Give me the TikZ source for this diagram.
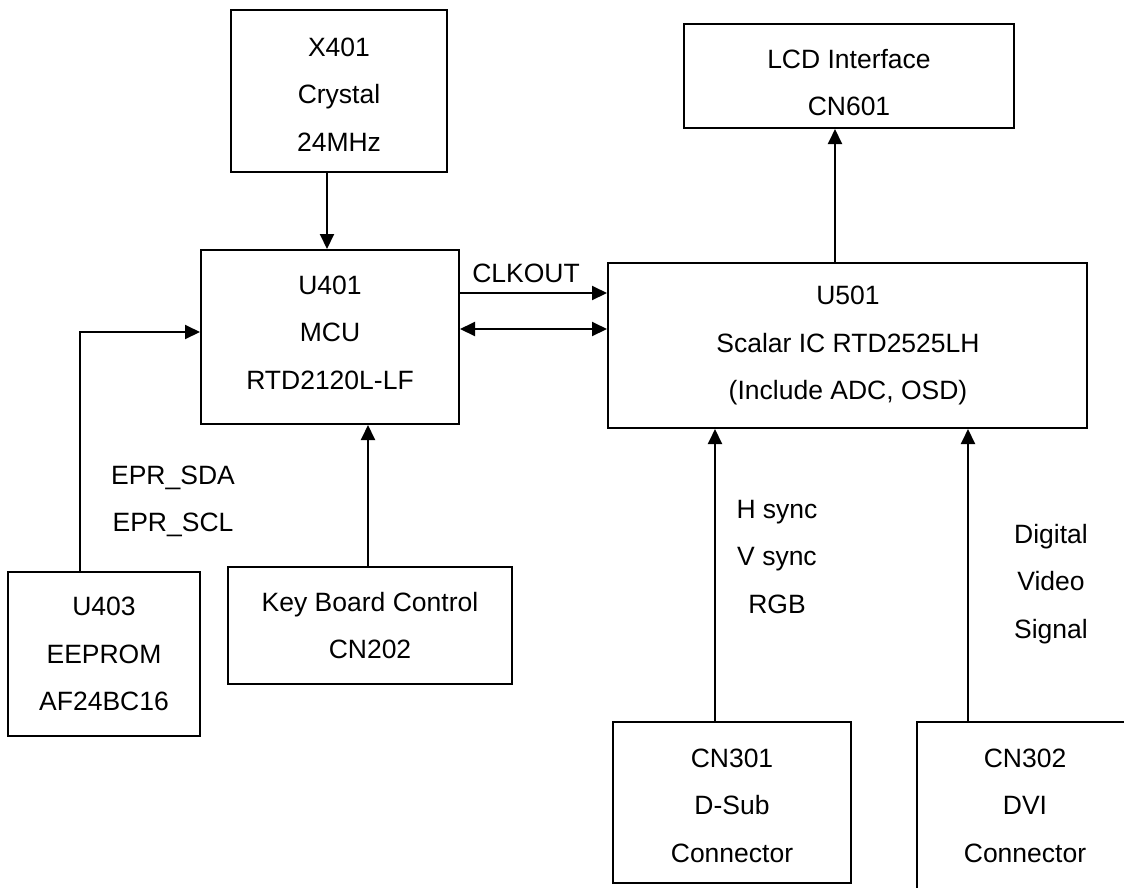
\documentclass[tikz,border=0pt]{standalone}
\usepackage{fontspec}
\setmainfont{Liberation Sans}
\usetikzlibrary{arrows.meta}
\begin{document}
\begin{tikzpicture}[x=1pt,y=-1pt,
  blk/.style={draw,line width=2pt,rectangle,inner sep=0pt},
  lbl/.style={inner sep=0pt,align=center,font=\fontsize{26.5}{47.5}\selectfont},
  arr/.style={line width=2pt,-{Triangle[length=15pt,width=14pt]}},
  darr/.style={line width=2pt,{Triangle[length=15pt,width=14pt]}-{Triangle[length=15pt,width=14pt]}}]
\useasboundingbox (0,0) rectangle (1124,887);
\clip (0,0) rectangle (1124,887);
\fill[white] (0,0) rectangle (1124,887);

% boxes
\node[blk,minimum width=216pt,minimum height=162pt] (x401) at (339,91) {};
\node[blk,minimum width=330pt,minimum height=104pt] (lcd) at (849,76) {};
\node[blk,minimum width=258pt,minimum height=174pt] (u401) at (330,337) {};
\node[blk,minimum width=479pt,minimum height=165pt] (u501) at (847.5,345.5) {};
\node[blk,minimum width=192pt,minimum height=164pt] (u403) at (104,654) {};
\node[blk,minimum width=284pt,minimum height=117pt] (kbd) at (370,625.5) {};
\node[blk,minimum width=238pt,minimum height=161pt] (cn301) at (732,802.5) {};
\node[blk,minimum width=216pt,minimum height=170pt] (cn302) at (1025,807) {};

% box texts
\node[lbl] (x401t) at (339,94.5) {X401\\Crystal\\24MHz};
\node[lbl] (lcdt) at (849,82.5) {LCD Interface\\CN601};
\node[lbl] (u401t) at (330,332.5) {U401\\MCU\\RTD2120L-LF};
\node[lbl] (u501t) at (848,345.5) {U501\\Scalar IC RTD2525LH\\(Include ADC, OSD)};
\node[lbl] (u403t) at (104,654) {U403\\EEPROM\\AF24BC16};
\node[lbl] (kbdt) at (370,625.5) {Key Board Control\\CN202};
\node[lbl] (cn301t) at (732,805.5) {CN301\\D-Sub\\Connector};
\node[lbl] (cn302t) at (1025,805.5) {CN302\\DVI\\Connector};

% signal labels
\node[lbl] (clk) at (526,273) {CLKOUT};
\node[lbl] (epr) at (173,501.5) {EPR\_SDA\\EPR\_SCL};
\node[lbl] (hv) at (777,557) {H sync\\V sync\\RGB};
\node[lbl] (dig) at (1051,584) {Digital\\Video\\Signal};

% helper coordinates
\coordinate (clky) at (0,293);
\coordinate (busy) at (0,329);
\coordinate (eey) at (0,332);
\coordinate (xin) at ([xshift=-3pt]u401.north);
\coordinate (lcdin) at ([xshift=-12.5pt]u501.north);
\coordinate (kin) at ([xshift=-2pt]kbd.north);
\coordinate (c1in) at ([xshift=-17pt]cn301.north);
\coordinate (c2in) at ([xshift=-57pt]cn302.north);
\coordinate (eeout) at ([xshift=-24pt]u403.north);

% connectors
\draw[arr] (xin |- x401.south) -- (xin);
\draw[arr] (lcdin) -- (lcdin |- lcd.south);
\draw[arr] (u401.east |- clky) -- (u501.west |- clky);
\draw[darr] (u401.east |- busy) -- (u501.west |- busy);
\draw[arr] (eeout) |- (u401.west |- eey);
\draw[arr] (kin) -- (kin |- u401.south);
\draw[arr] (c1in) -- (c1in |- u501.south);
\draw[arr] (c2in) -- (c2in |- u501.south);
\end{tikzpicture}
\end{document}
